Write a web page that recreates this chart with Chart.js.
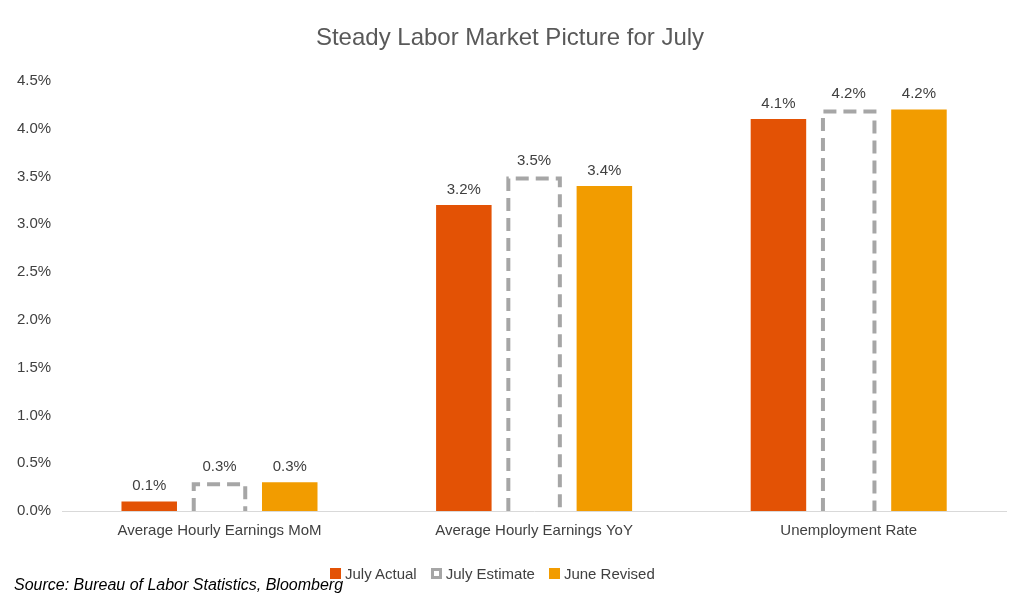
<!DOCTYPE html>
<html>
<head>
<meta charset="utf-8">
<script src="https://cdn.jsdelivr.net/npm/chart.js@4"></script>
<style>
  body { margin: 0; background: #fff; }
  #wrap { position: relative; width: 1024px; height: 605px; }
  #source { position: absolute; left: 14px; top: 576px; font: italic 16px "Liberation Sans", sans-serif; color: #000; }
  #legend { position: absolute; left: 330px; top: 565px; font: 15px "Liberation Sans", sans-serif; color: #404040; display: flex; gap: 14px; }
  #legend span { display: inline-flex; align-items: center; }
  #legend i { display: inline-block; width: 11px; height: 11px; margin-right: 4px; box-sizing: border-box; }
</style>
</head>
<body>
<div id="wrap">
  <canvas id="chart" width="1024" height="605"></canvas>
  <div id="source">Source: Bureau of Labor Statistics, Bloomberg</div>
  <div id="legend">
    <span><i style="background:#E35205"></i>July Actual</span>
    <span><i style="border:3px dashed #A6A6A6"></i>July Estimate</span>
    <span><i style="background:#F29C00"></i>June Revised</span>
  </div>
</div>
<script>
const categories = ['Average Hourly Earnings MoM', 'Average Hourly Earnings YoY', 'Unemployment Rate'];
const julyActual = [0.1, 3.2, 4.1];
const julyEstimate = [0.3, 3.5, 4.2];
const juneRevised = [0.3, 3.4, 4.2];

const labelPlugin = {
  id: 'barLabels',
  afterDatasetsDraw (chart) {
    const ctx = chart.ctx;
    ctx.save();
    // dashed outline for the estimate bars
    chart.getDatasetMeta(1).data.forEach(bar => {
      const half = bar.width / 2;
      ctx.strokeStyle = '#A6A6A6';
      ctx.lineWidth = 4;
      ctx.setLineDash([13, 7]);
      ctx.beginPath();
      ctx.moveTo(bar.x - half + 2, bar.base);
      ctx.lineTo(bar.x - half + 2, bar.y + 2);
      ctx.lineTo(bar.x + half - 2, bar.y + 2);
      ctx.lineTo(bar.x + half - 2, bar.base);
      ctx.stroke();
    });
    ctx.setLineDash([]);
    ctx.font = '15px "Liberation Sans", sans-serif';
    ctx.fillStyle = '#404040';
    ctx.textAlign = 'center';
    ctx.textBaseline = 'bottom';
    chart.data.datasets.forEach((ds, i) => {
      chart.getDatasetMeta(i).data.forEach((bar, j) => {
        ctx.fillText(ds.data[j].toFixed(1) + '%', bar.x, bar.y - 8);
      });
    });
    ctx.restore();
  }
};

new Chart(document.getElementById('chart'), {
  type: 'bar',
  data: {
    labels: categories,
    datasets: [{
      label: 'July Actual',
      data: julyActual,
      backgroundColor: '#E35205'
    }, {
      label: 'July Estimate',
      data: julyEstimate,
      backgroundColor: 'rgba(0,0,0,0)'
    }, {
      label: 'June Revised',
      data: juneRevised,
      backgroundColor: '#F29C00'
    }]
  },
  options: {
    responsive: false,
    animation: false,
    categoryPercentage: 0.67,
    barPercentage: 0.79,
    layout: { padding: { left: 14, right: 18, top: 0, bottom: 62 } },
    plugins: {
      title: {
        display: true,
        text: 'Steady Labor Market Picture for July',
        color: '#595959',
        font: { family: 'Liberation Sans', size: 24, weight: 'normal' },
        padding: { top: 24, bottom: 28 }
      },
      legend: { display: false },
      tooltip: { enabled: false }
    },
    scales: {
      y: {
        min: 0,
        max: 4.5,
        ticks: {
          stepSize: 0.5,
          color: '#404040',
          font: { family: 'Liberation Sans', size: 15 },
          callback: v => v.toFixed(1) + '%'
        },
        grid: { display: false },
        border: { display: false }
      },
      x: {
        ticks: {
          color: '#404040',
          font: { family: 'Liberation Sans', size: 15 }
        },
        grid: { display: false },
        border: { color: '#D9D9D9', width: 1 }
      }
    }
  },
  plugins: [labelPlugin]
});
</script>
</body>
</html>
